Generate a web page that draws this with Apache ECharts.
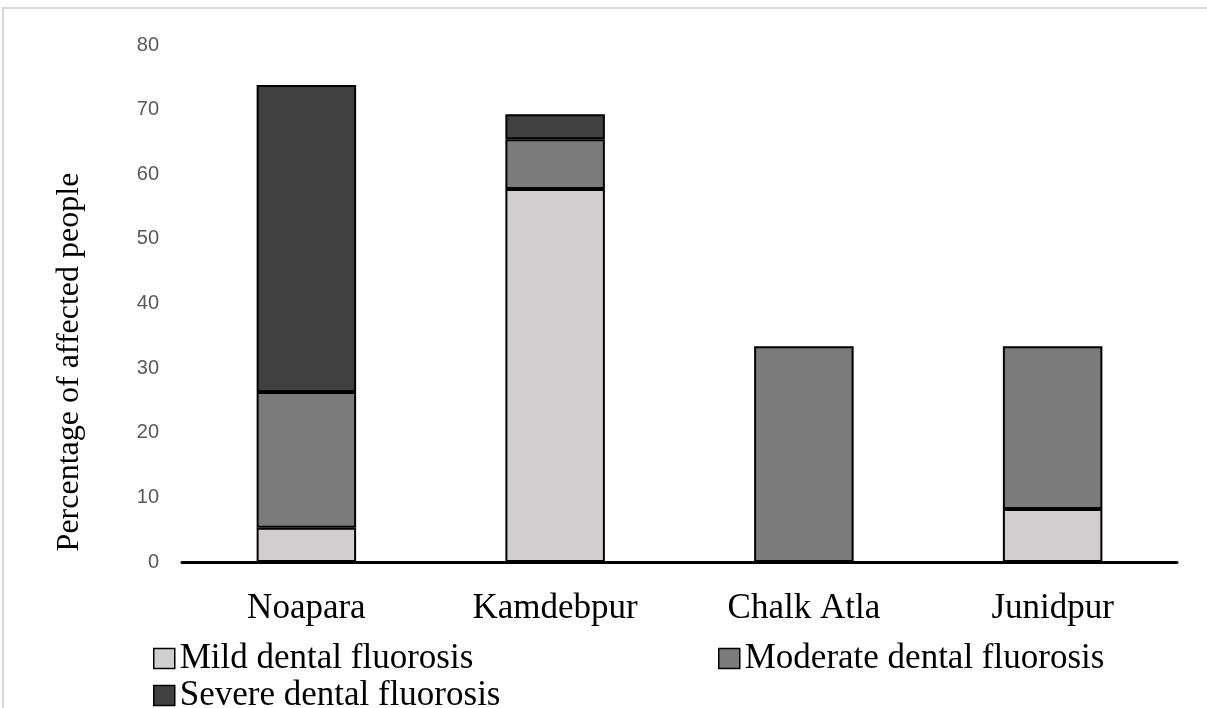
<!DOCTYPE html>
<html>
<head>
<meta charset="utf-8">
<script src="https://cdn.jsdelivr.net/npm/echarts@6/dist/echarts.min.js"></script>
<style>html,body{margin:0;padding:0;background:#fff;}#c{width:1207px;height:708px;}</style>
</head>
<body>
<div id="c"></div>
<script>
const categories = ['Noapara', 'Kamdebpur', 'Chalk Atla', 'Junidpur'];
const mild = [5.3, 57.7, null, 8.2];
const moderate = [21.0, 7.7, 33.4, 25.2];
const severe = [47.5, 3.9, null, null];
const seriesNames = ['Mild dental fluorosis', 'Moderate dental fluorosis', 'Severe dental fluorosis'];
const yTitle = 'Percentage of affected people';

const chart = echarts.init(document.getElementById('c'), null, {renderer: 'canvas'});
const serif = '"Liberation Serif", "Times New Roman", serif';
const colors = ['#d0cece', '#7b7b7b', '#404040'];
const values = [mild, moderate, severe];

const legendCommon = {
  icon: 'rect', itemWidth: 21, itemHeight: 20,
  textStyle: {fontFamily: serif, fontSize: 35, color: '#000'},
  itemStyle: {borderColor: '#000', borderWidth: 1.5},
  padding: 0
};

chart.setOption({
  backgroundColor: '#fff',
  animation: false,
  grid: {left: 182, right: 30, top: 45, bottom: 146, containLabel: false},
  legend: [
    Object.assign({data: [seriesNames[0]], left: 153, top: 641}, legendCommon),
    Object.assign({data: [seriesNames[1]], left: 718, top: 641}, legendCommon),
    Object.assign({data: [seriesNames[2]], left: 153, top: 678}, legendCommon)
  ],
  xAxis: {
    type: 'category', data: categories,
    axisLine: {lineStyle: {color: '#000', width: 3}},
    axisTick: {show: false},
    axisLabel: {fontFamily: serif, fontSize: 35, color: '#000', margin: 29}
  },
  yAxis: {
    type: 'value', min: 0, max: 80, interval: 10,
    axisLine: {show: false}, axisTick: {show: false},
    splitLine: {show: false},
    axisLabel: {fontFamily: '"Liberation Sans", Arial, sans-serif', fontSize: 20, color: '#595959', margin: 23}
  },
  graphic: [
    {type: 'rect', shape: {x: 3, y: 8, width: 1400, height: 900}, style: {fill: 'none', stroke: '#d9d9d9', lineWidth: 2}, silent: true},
    {type: 'text', x: 70, y: 362, rotation: Math.PI / 2,
     style: {text: yTitle, font: '32px ' + serif, fill: '#000', textAlign: 'center', textVerticalAlign: 'middle'}}
  ],
  series: seriesNames.map((n, i) => ({
    name: n, type: 'bar', stack: 'total', data: values[i],
    barWidth: '40%',
    itemStyle: {color: colors[i], borderColor: '#000', borderWidth: 2}
  }))
});
</script>
</body>
</html>
